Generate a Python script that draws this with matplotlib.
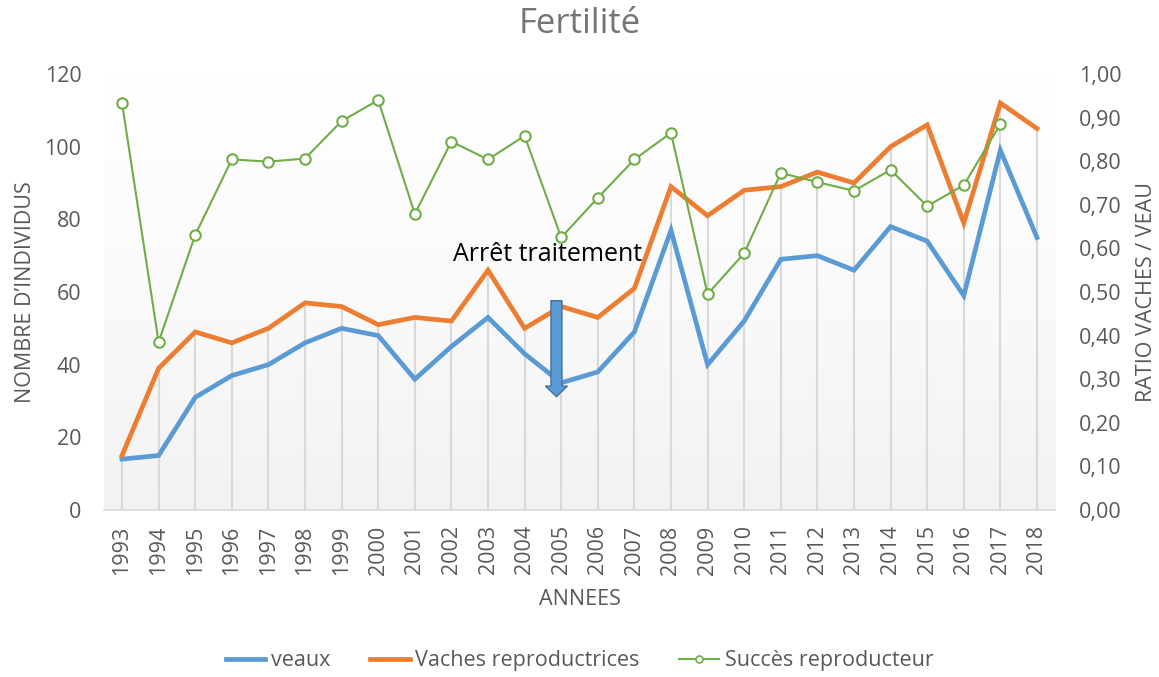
import matplotlib

matplotlib.use("Agg")

import matplotlib.pyplot as plt
import numpy as np
from matplotlib.lines import Line2D
from matplotlib.patches import FancyArrow
from matplotlib.ticker import FuncFormatter, MultipleLocator

years = list(range(1993, 2019))
veaux = [14, 15, 31, 37, 40, 46, 50, 48, 36, 45, 53, 43, 35, 38, 49, 77,
         40, 52, 69, 70, 66, 78, 74, 59, 99, 75]
vaches = [15, 39, 49, 46, 50, 57, 56, 51, 53, 52, 66, 50, 56, 53, 61, 89,
          81, 88, 89, 93, 90, 100, 106, 79, 112, 105]
succes = [0.933, 0.385, 0.631, 0.804, 0.799, 0.806, 0.892, 0.940, 0.679,
          0.845, 0.804, 0.858, 0.625, 0.716, 0.804, 0.865, 0.495, 0.589,
          0.773, 0.752, 0.732, 0.780, 0.697, 0.745, 0.885, np.nan]

BLUE = "#5B9BD5"
ORANGE = "#ED7D31"
GREEN = "#70AD47"
TXT = "#595959"

plt.rcParams.update({"font.family": ["Open Sans", "DejaVu Sans"]})

fig = plt.figure(figsize=(11.59, 6.77), dpi=100)
ax = fig.add_axes([0.0895, 0.2467, 0.821, 0.644])
ax2 = ax.twinx()

# soft gradient of the plot area
grad = np.linspace(0, 1, 256).reshape(-1, 1)
ax.imshow(grad, extent=[0, 1, 0, 1], transform=ax.transAxes, aspect="auto",
          cmap=matplotlib.colors.LinearSegmentedColormap.from_list(
              "bg", ["#F2F2F2", "#FAFAFA", "#FFFFFF"]),
          zorder=0, origin="lower")

x = np.array(years)
top = np.maximum(veaux, vaches)
ax.vlines(x, 0, top, color="#D9D9D9", lw=1.5, zorder=1)

ax.plot(x, veaux, color=BLUE, lw=3.4, zorder=3, solid_joinstyle="miter")
ax.plot(x, vaches, color=ORANGE, lw=3.4, zorder=3, solid_joinstyle="miter")
ax2.plot(x, succes, color=GREEN, lw=1.5, marker="o", ms=7.5,
         mfc="white", mec=GREEN, mew=1.5, zorder=4)

ax.set_xlim(1992.5, 2018.5)
ax.set_ylim(0, 120)
ax2.set_ylim(0, 1.0)
ax.yaxis.set_major_locator(MultipleLocator(20))
ax2.yaxis.set_major_locator(MultipleLocator(0.1))
ax2.yaxis.set_major_formatter(FuncFormatter(lambda v, p: f"{v:.2f}".replace(".", ",")))
ax.set_xticks(years)
ax.set_xticklabels([str(y) for y in years], rotation=90)

for a in (ax, ax2):
    for s in a.spines.values():
        s.set_visible(False)
    a.tick_params(length=0, colors=TXT, labelsize=15.5)
ax.spines["bottom"].set_visible(True)
ax.spines["bottom"].set_color("#D9D9D9")
ax.spines["bottom"].set_linewidth(1.2)
ax.tick_params(axis="x", pad=11)
ax.tick_params(axis="y", pad=16)
ax2.tick_params(axis="y", pad=17)

ax.set_xlabel("ANNEES", color=TXT, fontsize=15.5, labelpad=10)
ax.set_ylabel("NOMBRE D\u2019INDIVIDUS", color=TXT, fontsize=15.5, labelpad=6)
ax2.set_ylabel("RATIO VACHES / VEAU", color=TXT, fontsize=15.5, labelpad=10)

fig.text(0.5, 0.964, "Fertilité", ha="center", va="center", color="#757575",
         fontsize=25)

# annotation
ax.text(2002.04, 70.2, "Arrêt traitement", fontsize=18, color="black",
        ha="left", va="center", zorder=6)
arrow = FancyArrow(2004.87, 57.6, 0, -26.4, width=0.3, head_width=0.6,
                   head_length=2.9, length_includes_head=True,
                   fc=BLUE, ec="#41719C", lw=1.0, zorder=6)
ax.add_patch(arrow)

handles = [
    Line2D([], [], color=BLUE, lw=3.4),
    Line2D([], [], color=ORANGE, lw=3.4),
    Line2D([], [], color=GREEN, lw=1.5, marker="o", ms=5, mfc="white", mew=1.2),
]
fig.legend(handles, ["veaux", "Vaches reproductrices", "Succès reproducteur"],
           loc="center", bbox_to_anchor=(0.5, 0.024), ncol=3, frameon=False,
           fontsize=15.5, labelcolor=TXT, handlelength=1.85, handletextpad=0.25,
           columnspacing=1.85)

fig.savefig("out.png", dpi=100)
